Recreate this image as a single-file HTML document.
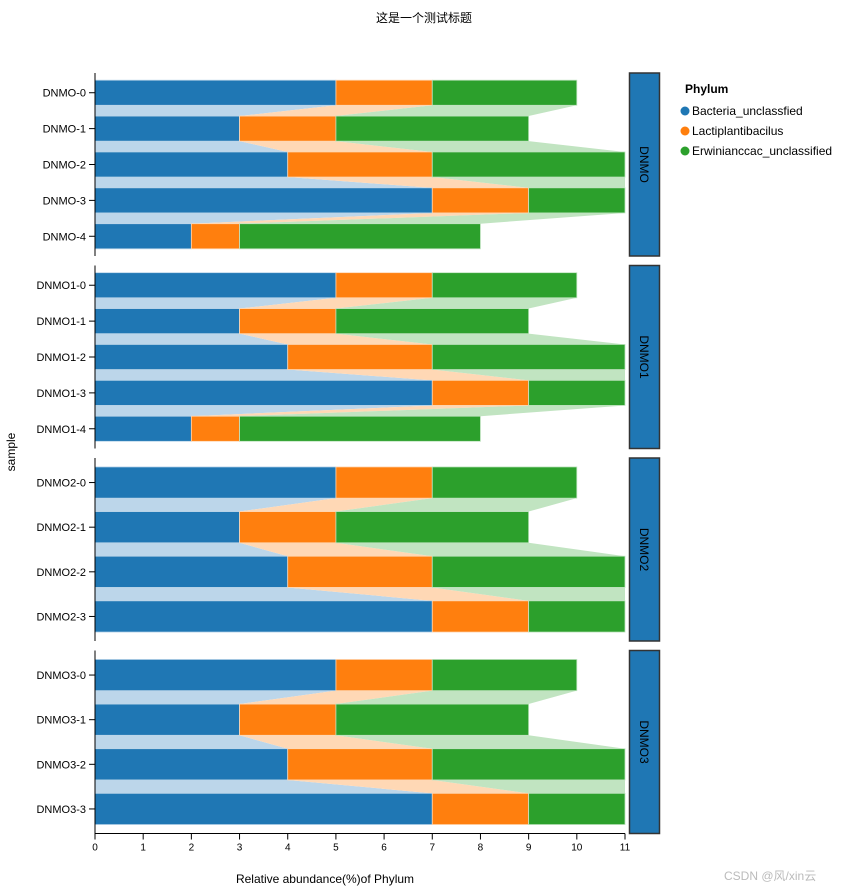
<!DOCTYPE html>
<html><head><meta charset="utf-8"><style>
body{margin:0;background:#fff}
svg{display:block;font-family:"Liberation Sans","Noto Sans CJK SC",sans-serif}
</style></head><body>
<svg id="chart" width="848" height="891"></svg>
<script>
const groups = ["DNMO","DNMO1","DNMO2","DNMO3"];
const sampleCounts = [5,5,4,4];
const seriesNames = ["Bacteria_unclassfied","Lactiplantibacilus","Erwinianccac_unclassified"];
const bacteria = [5,3,4,7,2];
const lacti = [2,2,3,2,1];
const erwin = [3,4,4,2,5];
const xTicks = [0,1,2,3,4,5,6,7,8,9,10,11];
const colors = ["#1f77b4","#ff7f0e","#2ca02c"];
const light = ["#bcd6ea","#ffd8b5","#c1e4c1"];
const NS="http://www.w3.org/2000/svg";
const svg=document.getElementById('chart');
function mk(t,a,p){const e=document.createElementNS(NS,t);for(const k in a)e.setAttribute(k,a[k]);(p||svg).appendChild(e);return e;}
const x0=95,x1=625,xMax=11;
const x=v=>x0+(x1-x0)*v/xMax;
const panelH=183, panelTops=[73,265.5,458,650.5];
const series=[bacteria,lacti,erwin];

let t=mk('text',{x:424,y:22,'text-anchor':'middle','font-size':12,fill:'#000'});t.textContent='这是一个测试标题';



groups.forEach((g,gi)=>{
  const n=sampleCounts[gi], top=panelTops[gi];
  const step=panelH/(n-0.3+0.4), bw=step*0.7, off=step*0.2;
  const pg=mk('g',{});
  
  
  const yb=i=>top+off+i*step;
  // connectors
  for(let i=0;i<n-1;i++){
    let a=0,b=0;
    for(let s=0;s<3;s++){
      const a2=a+series[s][i], b2=b+series[s][i+1];
      const p=mk('polygon',{points:`${x(a)},${yb(i)+bw} ${x(a2)},${yb(i)+bw} ${x(b2)},${yb(i+1)} ${x(b)},${yb(i+1)}`,fill:light[s]},pg);
      
      
      a=a2;b=b2;
    }
  }
  for(let i=0;i<n;i++){
    let a=0;
    for(let s=0;s<3;s++){
      const v=series[s][i];
      const r=mk('rect',{x:x(a),y:yb(i),width:x(a+v)-x(a),height:bw,fill:colors[s],stroke:light[s],'stroke-width':0.8},pg);
      
      
      a+=v;
    }
    const cy=yb(i)+bw/2;
    mk('line',{x1:x0-6,x2:x0,y1:cy,y2:cy,stroke:'#000'},pg);
    const lb=mk('text',{x:x0-9,y:cy+4,'text-anchor':'end','font-size':11,fill:'#000'},pg);
    lb.textContent=g+'-'+i;
    
    
  }
  mk('line',{x1:x0,x2:x0,y1:top,y2:top+panelH,stroke:'#000'},pg);
  const st=mk('rect',{x:629.5,y:top,width:30,height:panelH,fill:'#1f77b4',stroke:'#333','stroke-width':1.5},pg);
  
  
  const sl=mk('text',{x:0,y:0,'text-anchor':'middle','font-size':12,fill:'#000',transform:`translate(640,${top+panelH/2}) rotate(90)`},pg);
  sl.textContent=g;
  
  
});
// x axis
const ay=833.5;
mk('line',{x1:x0,x2:x1,y1:ay,y2:ay,stroke:'#000'});
xTicks.forEach(v=>{
  mk('line',{x1:x(v),x2:x(v),y1:ay,y2:ay+6,stroke:'#000'});
  const tl=mk('text',{x:x(v),y:ay+17,'text-anchor':'middle','font-size':10,fill:'#000'});
  tl.textContent=v;
  
  
});
t=mk('text',{x:325,y:883,'text-anchor':'middle','font-size':12,fill:'#000'});t.textContent='Relative abundance(%)of Phylum';


t=mk('text',{x:0,y:0,'text-anchor':'middle','font-size':12,fill:'#000',transform:'translate(15,452) rotate(-90)'});t.textContent='sample';


// legend
t=mk('text',{x:685,y:93,'font-size':12,'font-weight':'bold',fill:'#000'});t.textContent='Phylum';


seriesNames.forEach((s,i)=>{
  const g=mk('g',{});
  
  
  mk('circle',{cx:685,cy:111+i*20,r:4.5,fill:colors[i]},g);
  const lt=mk('text',{x:692,y:115+i*20,'font-size':12,fill:'#000'},g);lt.textContent=s;
});
t=mk('text',{x:724,y:880,'font-size':12,fill:'#bbb'});t.textContent='CSDN @风/xin云';


</script>
</body></html>
